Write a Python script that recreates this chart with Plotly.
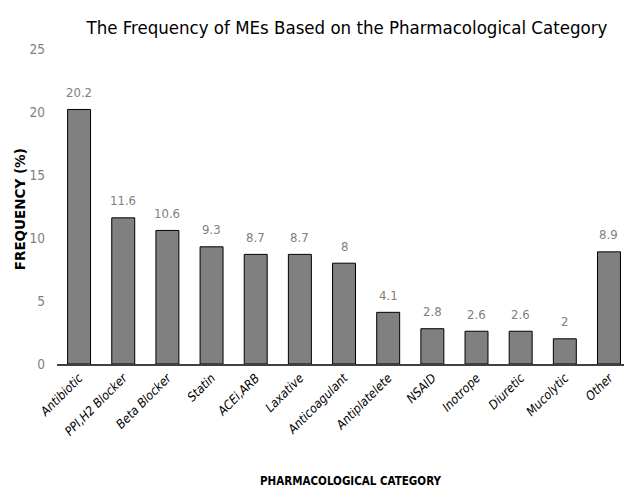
import plotly.graph_objects as go

categories = ["Antibiotic", "PPI,H2 Blocker", "Beta Blocker", "Statin", "ACEi,ARB", "Laxative",
              "Anticoagulant", "Antiplatelete", "NSAID", "Inotrope", "Diuretic", "Mucolytic", "Other"]
values = [20.2, 11.6, 10.6, 9.3, 8.7, 8.7, 8, 4.1, 2.8, 2.6, 2.6, 2, 8.9]
value_labels = ["20.2", "11.6", "10.6", "9.3", "8.7", "8.7", "8", "4.1", "2.8", "2.6", "2.6", "2", "8.9"]
y_ticks = [0, 5, 10, 15, 20, 25]

FONT = "DejaVu Sans Condensed, Liberation Sans Narrow, sans-serif"

fig = go.Figure(go.Bar(
    x=categories, y=values,
    marker=dict(color="#808080", line=dict(color="#000000", width=1)),
    width=0.52,
    cliponaxis=False,
))

for c, v, t in zip(categories, values, value_labels):
    fig.add_annotation(x=c, y=v, text=t, showarrow=False, yanchor="middle", yshift=17,
                       font=dict(family=FONT, size=13, color="#808080"))

# axis titles placed as paper annotations
fig.add_annotation(text="<b>PHARMACOLOGICAL CATEGORY</b>", xref="paper", yref="paper",
                   x=0.517, y=-0.371, xanchor="center", yanchor="middle", showarrow=False,
                   font=dict(family=FONT, size=11.5, color="#000000"))
fig.add_annotation(text="<b>FREQUENCY (%)</b>", xref="paper", yref="paper",
                   x=-0.066, y=0.49, xanchor="center", yanchor="middle", textangle=-90,
                   showarrow=False,
                   font=dict(family="DejaVu Sans, sans-serif", size=13.5, color="#000000"))

fig.update_layout(
    width=624, height=488,
    paper_bgcolor="white", plot_bgcolor="white",
    margin=dict(l=57, r=0, t=49, b=124),
    title=dict(text="The Frequency of MEs Based on the Pharmacological Category",
               x=0.556, xanchor="center", y=0.9426, yanchor="middle",
               font=dict(family=FONT, size=18.5, color="#000000")),
    bargap=0.48,
    showlegend=False,
)
fig.update_xaxes(
    range=[-0.5, 12.34],
    automargin=False,
    tickangle=-45,
    tickfont=dict(family=FONT, size=12.5, color="#000000", style="italic"),
    showline=True, linecolor="#404040", linewidth=1.5,
    showgrid=False, ticks="",
)
fig.update_yaxes(
    range=[0, 25], tickvals=y_ticks,
    automargin=False,
    tickfont=dict(family=FONT, size=13.5, color="#808080"),
    showline=False, showgrid=False, zeroline=False, ticks="",
    ticklabelstandoff=11,
)

fig.write_html("out.html",
               config={"displayModeBar": False},
               post_script="document.body.style.margin='0';document.body.style.overflow='hidden';")
